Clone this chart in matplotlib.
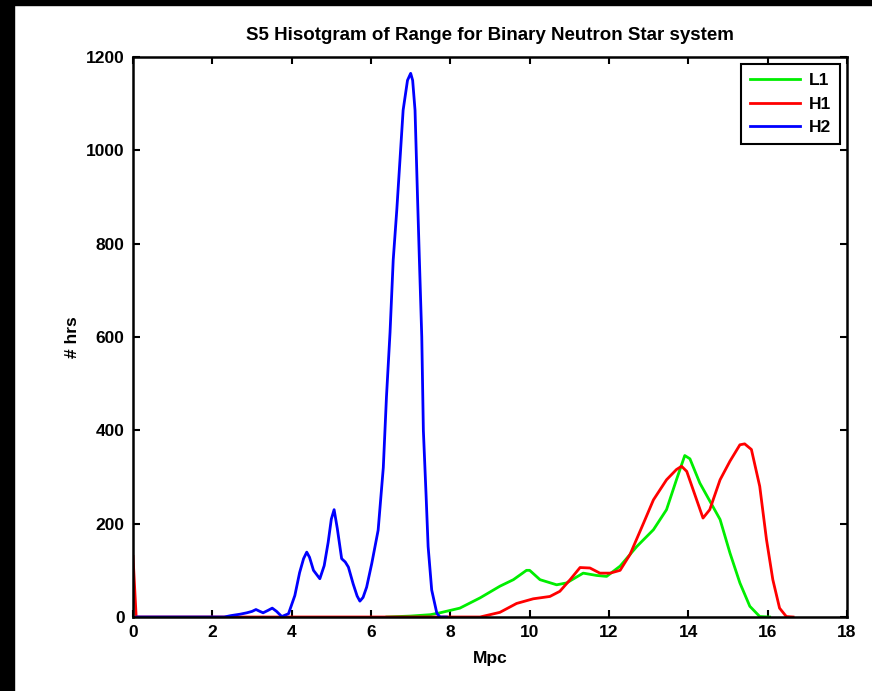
import matplotlib
matplotlib.use("Agg")
import matplotlib.pyplot as plt
from matplotlib.patches import Rectangle

plt.rcParams['font.family'] = ['Liberation Sans', 'DejaVu Sans']
plt.rcParams['font.weight'] = 'bold'
plt.rcParams['axes.labelweight'] = 'bold'

# L1 (green)
l1_x = [6.4, 7.0, 7.5, 7.74, 8.24, 8.75, 9.25, 9.59, 9.92, 10.0, 10.26, 10.68, 10.93,
        11.35, 11.69, 11.94, 12.28, 12.70, 13.12, 13.45, 13.70, 13.91, 14.04, 14.29,
        14.80, 15.05, 15.30, 15.55, 15.80, 16.05]
l1_y = [0, 2, 5, 9, 19, 41, 66, 80, 100, 100, 80, 69, 73,
        94, 89, 87, 109, 151, 187, 230, 294, 346, 339, 287,
        209, 137, 73, 23, 1, 0]

# H1 (red)
h1_x = [0.0, 0.08, 2.0, 6.0, 7.74, 8.75, 9.25, 9.67, 10.09, 10.51, 10.76, 11.02, 11.27,
        11.52, 11.77, 12.03, 12.28, 12.53, 12.87, 13.12, 13.45, 13.70, 13.83, 13.96,
        14.21, 14.37, 14.54, 14.80, 15.05, 15.30, 15.42, 15.59, 15.80, 15.97, 16.13,
        16.30, 16.47, 16.64]
h1_y = [130, 0, 0, 0, 0, 0, 10, 29, 39, 44, 55, 80, 106,
        105, 94, 94, 100, 134, 201, 251, 294, 316, 323, 312,
        251, 212, 230, 294, 334, 369, 371, 359, 280, 166, 80,
        19, 1, 0]

# H2 (blue)
h2_x = [0.1, 2.3, 2.47, 2.7, 2.87, 3.0, 3.1, 3.2, 3.28, 3.4, 3.51, 3.62, 3.75, 3.92,
        4.08, 4.2, 4.3, 4.38, 4.45, 4.55, 4.71, 4.82, 4.92, 5.0, 5.07, 5.15, 5.26,
        5.35, 5.43, 5.55, 5.65, 5.72, 5.8, 5.89, 6.02, 6.18, 6.31, 6.39, 6.48, 6.56,
        6.65, 6.73, 6.81, 6.92, 7.0, 7.05, 7.11, 7.17, 7.22, 7.28, 7.32, 7.39, 7.44,
        7.53, 7.66, 7.74, 7.9]
h2_y = [0, 0, 3, 6, 9, 12, 16, 12, 9, 14, 19, 12, 1, 7,
        46, 95, 125, 139, 128, 100, 82, 110, 160, 210, 230, 190, 125,
        118, 107, 71, 45, 34, 42, 64, 115, 186, 320, 472, 610, 765,
        872, 979, 1086, 1150, 1165, 1150, 1086, 908, 765, 600, 400, 258, 151,
        58, 8, 0, 0]

xticks = list(range(0, 19, 2))
yticks = list(range(0, 1201, 200))

fig = plt.figure(figsize=(8.72, 6.91), dpi=100)
ax = fig.add_axes([133 / 872, 1 - 617 / 691, 714 / 872, 560 / 691])

ax.plot(l1_x, l1_y, color='#00ee00', lw=2.0, label='L1')
ax.plot(h1_x, h1_y, color='#ff0000', lw=2.0, label='H1')
ax.plot(h2_x, h2_y, color='#0000ff', lw=2.0, label='H2')

ax.set_xlim(0, 18)
ax.set_ylim(0, 1200)
ax.set_xticks(xticks)
ax.set_yticks(yticks)
ax.tick_params(direction='in', length=5, width=1.5, top=True, right=True,
               labelsize=12.5, pad=6)
for s in ax.spines.values():
    s.set_linewidth(1.8)

ax.set_title('S5 Hisotgram of Range for Binary Neutron Star system', fontsize=13.5,
             fontweight='bold', pad=12)
ax.set_xlabel('Mpc', fontsize=12.5, labelpad=8)
ax.set_ylabel('# hrs', fontsize=12.5, labelpad=4)

leg = ax.legend(loc='upper right', fontsize=12.5, fancybox=False, framealpha=1,
                edgecolor='black', handlelength=2.9, borderaxespad=0.4,
                labelspacing=0.5, handletextpad=0.5, borderpad=0.5)
leg.get_frame().set_linewidth(1.5)

# black border strips from the screenshot
fig.patches.append(Rectangle((0, 0), 14 / 872, 1, transform=fig.transFigure,
                             color='black', zorder=10))
fig.patches.append(Rectangle((0, 1 - 5 / 691), 1, 5 / 691, transform=fig.transFigure,
                             color='black', zorder=10))

fig.savefig('out.png', dpi=100)
